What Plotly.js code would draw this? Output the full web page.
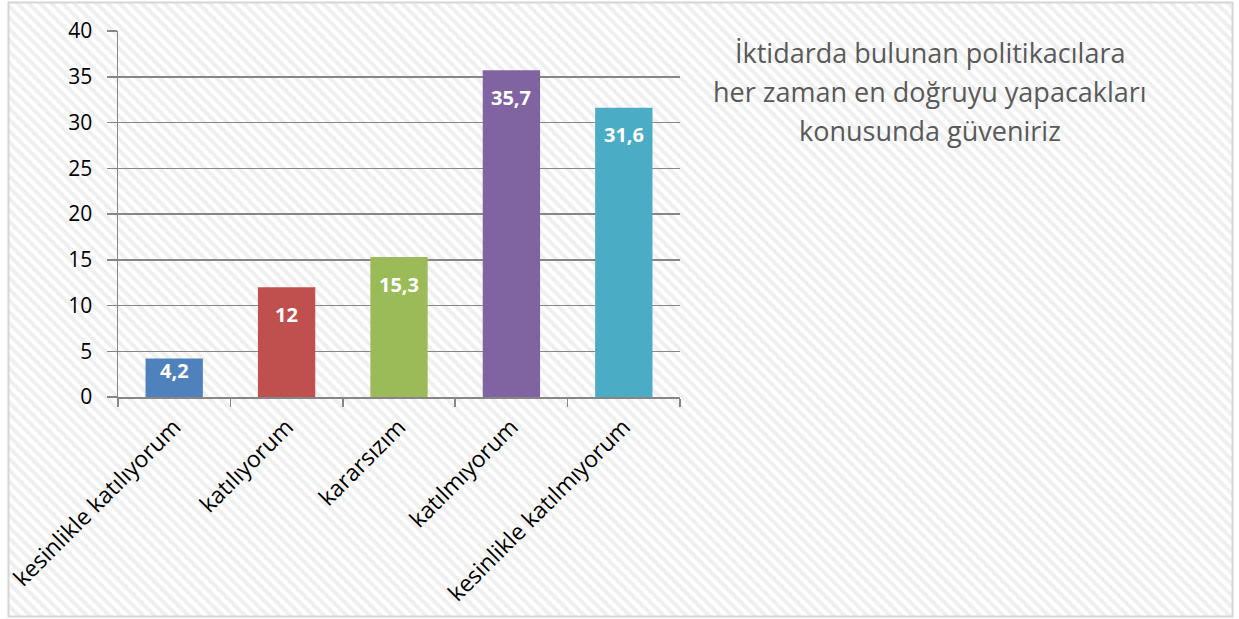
<!DOCTYPE html>
<html>
<head>
<meta charset="utf-8">
<script src="https://cdn.plot.ly/plotly-3.0.1.min.js"></script>
<style>html,body{margin:0;padding:0;background:#fff;}#chart{width:1239px;height:619px;}</style>
</head>
<body>
<div id="chart"></div>
<script>
const categories = ["kesinlikle katılıyorum", "katılıyorum", "kararsızım", "katılmıyorum", "kesinlikle katılmıyorum"];
const values = [4.2, 12, 15.3, 35.7, 31.6];
const barColors = ["#4F81BD", "#C0504D", "#9BBB59", "#8064A2", "#4BACC6"];
const yTicks = [0, 5, 10, 15, 20, 25, 30, 35, 40];
const titleLines = ["İktidarda bulunan politikacılara", "her zaman en doğruyu yapacakları", "konusunda güveniriz"];

const W = 1239, H = 619;
const M = {l: 118, r: 559, t: 31, b: 222};
const pw = W - M.l - M.r, ph = H - M.t - M.b;
const yMax = 40;

const svg = `<svg xmlns="http://www.w3.org/2000/svg" width="${W}" height="${H}" viewBox="0 0 ${W} ${H}" preserveAspectRatio="none">
<defs><pattern id="p" width="8" height="8" patternUnits="userSpaceOnUse" patternTransform="rotate(-45)">
<rect width="8" height="8" fill="#ffffff"/><rect width="4" height="8" fill="#efefef"/></pattern></defs>
<rect x="8.5" y="2.5" width="1224" height="614" fill="url(#p)" stroke="#d6d6d6" stroke-width="2"/></svg>`;

const trace = {
  type: "bar",
  x: categories,
  y: values,
  marker: {color: barColors},
  hoverinfo: "none"
};

const labelAnns = values.map((v, i) => {
  const barPx = v / yMax * ph;
  return {
    x: categories[i], y: v, xref: "x", yref: "y",
    text: "<b>" + String(v).replace(".", ",") + "</b>",
    showarrow: false, xanchor: "center", yanchor: "middle",
    yshift: -Math.min(27, barPx * 0.32),
    font: {family: "Open Sans, sans-serif", size: 20, color: "#ffffff"}
  };
});

const titleY = [53, 91.5, 130];
const titleAnns = titleLines.map((t, i) => ({
  text: t, showarrow: false,
  xref: "paper", yref: "paper",
  x: (930 - M.l) / pw, y: (H - M.b - titleY[i]) / ph,
  xanchor: "center", yanchor: "middle",
  font: {family: "Open Sans, sans-serif", size: 27, color: "#595959"}
}));

const layout = {
  width: W, height: H,
  margin: M,
  paper_bgcolor: "rgba(0,0,0,0)",
  plot_bgcolor: "rgba(0,0,0,0)",
  showlegend: false,
  bargap: 0.49,
  font: {family: "Open Sans, sans-serif", color: "#000"},
  xaxis: {
    type: "category",
    tickangle: -45,
    tickfont: {size: 23, color: "#000"},
    showline: true, linecolor: "#868686", linewidth: 1.5,
    ticks: "outside", tickson: "boundaries", ticklen: 8, tickcolor: "#868686", tickwidth: 1.5,
    ticklabelstandoff: 6,
    showgrid: false, fixedrange: true
  },
  yaxis: {
    range: [0, yMax],
    tickvals: yTicks,
    tickfont: {size: 21, color: "#000"},
    showline: true, linecolor: "#868686", linewidth: 1.5,
    ticks: "outside", ticklen: 10, tickcolor: "#868686", tickwidth: 1.5,
    ticklabelstandoff: 10,
    showgrid: true, gridcolor: "#868686", gridwidth: 1.5,
    zeroline: false, fixedrange: true
  },
  annotations: labelAnns.concat(titleAnns),
  images: [{
    source: "data:image/svg+xml;charset=utf-8," + encodeURIComponent(svg),
    xref: "paper", yref: "paper",
    x: -M.l / pw, y: 1 + M.t / ph,
    sizex: W / pw, sizey: H / ph,
    xanchor: "left", yanchor: "top",
    sizing: "stretch", layer: "below"
  }]
};

Plotly.newPlot("chart", [trace], layout, {displayModeBar: false, staticPlot: true});
</script>
</body>
</html>
